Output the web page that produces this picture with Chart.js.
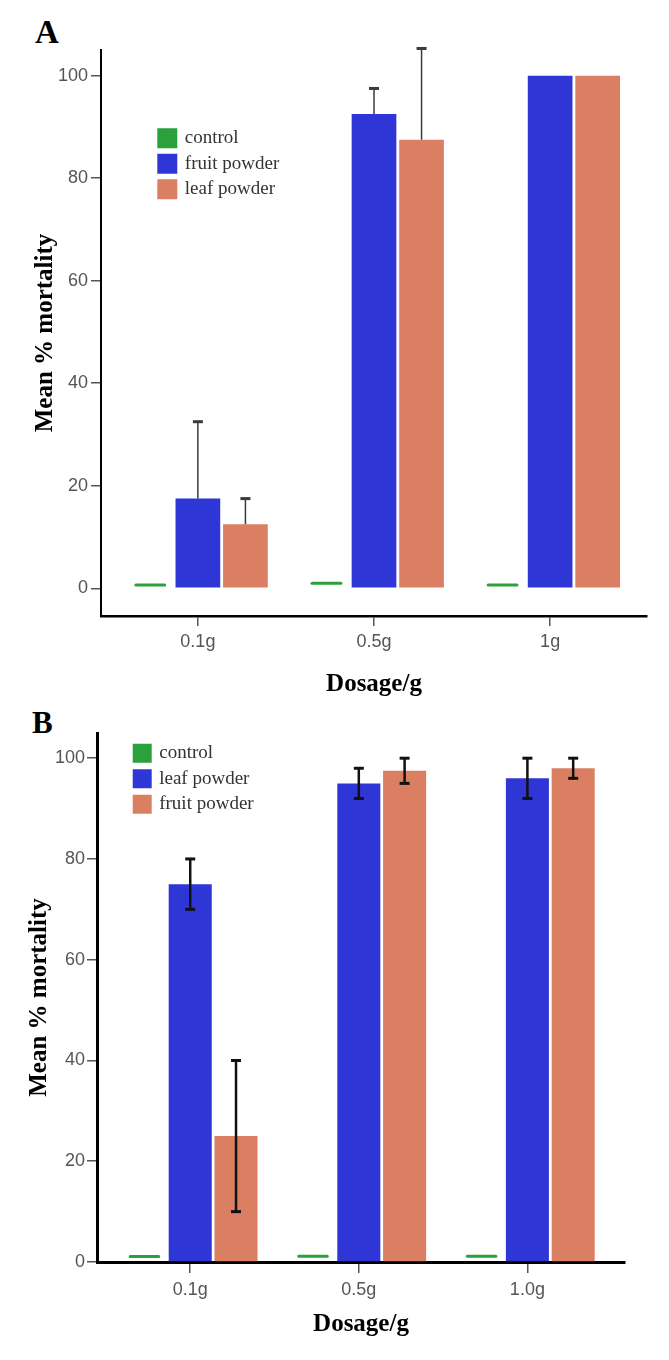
<!DOCTYPE html>
<html>
<head>
<meta charset="utf-8">
<script src="https://cdn.jsdelivr.net/npm/chart.js@4.4.1/dist/chart.umd.min.js"></script>
<style>
  html, body { margin:0; padding:0; background:#fff; }
  body { width:669px; height:1360px; position:relative; overflow:hidden; }
  .wrap { position:absolute; left:0; width:669px; }
  .panel { position:absolute; font-family:'Liberation Serif','Times New Roman',serif; font-weight:bold; color:#000; line-height:1; }
</style>
</head>
<body>
<div class="panel" style="left:35px; top:16px; font-size:33px;">A</div>
<div class="panel" style="left:32px; top:707px; font-size:31px;">B</div>
<div class="wrap" style="top:0; height:700px;"><canvas id="cA" width="669" height="700"></canvas></div>
<div class="wrap" style="top:700px; height:660px;"><canvas id="cB" width="669" height="660"></canvas></div>
<script>
// ---------- data ----------
const yTickValues = [0, 20, 40, 60, 80, 100];

// Panel A
const dosesA = ['0.1g', '0.5g', '1g'];
const controlLowA  = [0.35, 0.7, 0.35];
const controlHighA = [0.95, 1.3, 0.95];
const fruitA = [17.5, 92.5, 100];
const leafA  = [12.5, 87.5, 100];
const fruitErrHighA = [32.5, 97.5, null];
const leafErrHighA  = [17.5, 105.3, null];

// Panel B
const dosesB = ['0.1g', '0.5g', '1.0g'];
const controlLowB  = [0.8, 0.85, 0.85];
const controlHighB = [1.4, 1.45, 1.45];
const leafB  = [75, 95, 96];
const fruitB = [25, 97.5, 98];
const leafErrLowB   = [70, 92, 92];
const leafErrHighB  = [80, 98, 100];
const fruitErrLowB  = [10, 95, 96];
const fruitErrHighB = [40, 100, 100];

// ---------- styling ----------
const GREEN = '#2ba13b', BLUE = '#2e37d6', ORANGE = '#da7f62';
const serif = "'Liberation Serif','Times New Roman',serif";
const sans = "'Liberation Sans', Arial, sans-serif";

const errPlugin = {
  id: 'errbars',
  afterDatasetsDraw(chart, args, opts) {
    const ctx = chart.ctx, ys = chart.scales.y;
    ctx.save();
    ctx.strokeStyle = opts.color;
    opts.series.forEach(s => {
      const meta = chart.getDatasetMeta(s.dataset);
      s.high.forEach((hi, i) => {
        const lo = s.low[i];
        if (hi == null || lo == null) return;
        const x = meta.data[i].x;
        const yl = ys.getPixelForValue(lo), yh = ys.getPixelForValue(hi);
        ctx.lineWidth = opts.lineWidth;
        ctx.beginPath(); ctx.moveTo(x, yl); ctx.lineTo(x, yh); ctx.stroke();
        ctx.lineWidth = opts.capWidth;
        ctx.beginPath(); ctx.moveTo(x - opts.cap, yh); ctx.lineTo(x + opts.cap, yh); ctx.stroke();
        if (opts.bottomCap) { ctx.beginPath(); ctx.moveTo(x - opts.cap, yl); ctx.lineTo(x + opts.cap, yl); ctx.stroke(); }
      });
    });
    ctx.restore();
  }
};

const legendPos = {
  id: 'legendPos',
  afterLayout(chart, args, opts) {
    const lg = chart.legend; if (!lg) return;
    lg.left = opts.left; lg.top = opts.top;
    lg.width = 260; lg.height = 140;
    lg.right = opts.left + 260; lg.bottom = opts.top + 140;
  }
};

function pts(vals) { return vals.map((v, i) => ({ x: i, y: v })); }
function ranges(lo, hi) { return lo.map((v, i) => ({ x: i, y: [v, hi[i]] })); }

function makeChart(id, cfg) {
  const labels = cfg.labels;
  return new Chart(document.getElementById(id), {
    type: 'bar',
    data: {
      datasets: [
        { label: 'control', data: ranges(cfg.cLo, cfg.cHi), backgroundColor: GREEN, barPercentage: cfg.greenPct, borderRadius: 2, borderSkipped: false },
        { label: cfg.names[0], data: pts(cfg.s1), backgroundColor: BLUE },
        { label: cfg.names[1], data: pts(cfg.s2), backgroundColor: ORANGE }
      ]
    },
    plugins: [errPlugin, legendPos],
    options: {
      responsive: false,
      animation: false,
      events: [],
      categoryPercentage: cfg.catPct,
      barPercentage: 0.94,
      layout: { padding: cfg.padding },
      plugins: {
        tooltip: { enabled: false },
        legend: {
          position: 'chartArea', align: 'start',
          labels: {
            boxWidth: cfg.box, boxHeight: cfg.box, padding: 6.5, color: '#333',
            font: { family: serif, size: 19 },
            generateLabels(chart) {
              const items = Chart.defaults.plugins.legend.labels.generateLabels(chart);
              items.forEach(it => { it.strokeStyle = it.fillStyle; it.lineWidth = 4; it.borderRadius = 0; });
              return items;
            }
          }
        },
        legendPos: cfg.legendPos,
        errbars: cfg.err
      },
      scales: {
        x: {
          type: 'linear', min: cfg.xMin, max: cfg.xMax, offset: false,
          afterFit: s => { s.height = cfg.xHeight; },
          afterBuildTicks: s => { s.ticks = labels.map((l, i) => ({ value: i })); },
          ticks: { callback: v => labels[v], color: '#555', padding: cfg.xPad, font: { family: sans, size: 18 }, maxRotation: 0, autoSkip: false },
          grid: { offset: false, drawOnChartArea: false, drawTicks: true, tickLength: cfg.xTick, color: '#555', lineWidth: 1.5 },
          border: { display: true, color: '#000', width: cfg.xBorder },
          title: { display: true, text: 'Dosage/g', color: '#000', font: { family: serif, size: 25, weight: 'bold', lineHeight: 1.2 }, padding: { top: 0, bottom: cfg.xTitlePad } }
        },
        y: {
          min: cfg.yMin, max: 105,
          afterFit: s => { s.width = cfg.yWidth; },
          afterBuildTicks: s => { s.ticks = yTickValues.map(v => ({ value: v })); },
          ticks: { color: '#555', padding: cfg.yPad, font: { family: sans, size: 18 } },
          grid: { drawOnChartArea: false, drawTicks: true, tickLength: 10, color: '#555', lineWidth: 1.5 },
          border: { display: true, color: '#000', width: cfg.yBorder },
          title: { display: true, text: 'Mean % mortality', color: '#000', font: { family: serif, size: 25, weight: 'bold', lineHeight: 1.2 }, padding: { top: cfg.yTitlePad, bottom: 0 } }
        }
      }
    }
  });
}

makeChart('cA', {
  labels: dosesA, cLo: controlLowA, cHi: controlHighA, s1: fruitA, s2: leafA,
  names: ['fruit powder', 'leaf powder'], greenPct: 0.67, catPct: 0.81, box: 16,
  padding: { top: 50, right: 22, bottom: 0, left: 0 },
  xMin: -0.55, xMax: 2.55, xHeight: 84, xPad: 5, xTick: 10, xBorder: 2.5, xTitlePad: 0,
  yMin: -5.4, yWidth: 101, yPad: 3, yBorder: 2, yTitlePad: 31,
  legendPos: { left: 152.8, top: 122.3 },
  err: { color: '#3a3a3a', lineWidth: 1.5, capWidth: 3, cap: 5, bottomCap: false,
    series: [ { dataset: 1, low: fruitA, high: fruitErrHighA }, { dataset: 2, low: leafA, high: leafErrHighA } ] }
});

makeChart('cB', {
  labels: dosesB, cLo: controlLowB, cHi: controlHighB, s1: leafB, s2: fruitB,
  names: ['leaf powder', 'fruit powder'], greenPct: 0.69, catPct: 0.815, box: 15,
  padding: { top: 33, right: 44, bottom: 0, left: 0 },
  xMin: -0.553, xMax: 2.579, xHeight: 98, xPad: 6, xTick: 11, xBorder: 3, xTitlePad: 20,
  yMin: 0, yWidth: 97, yPad: 2, yBorder: 3, yTitlePad: 25,
  legendPos: { left: 128.2, top: 37.3 },
  err: { color: '#111', lineWidth: 2.5, capWidth: 3, cap: 5, bottomCap: true,
    series: [ { dataset: 1, low: leafErrLowB, high: leafErrHighB }, { dataset: 2, low: fruitErrLowB, high: fruitErrHighB } ] }
});
</script>
</body>
</html>
